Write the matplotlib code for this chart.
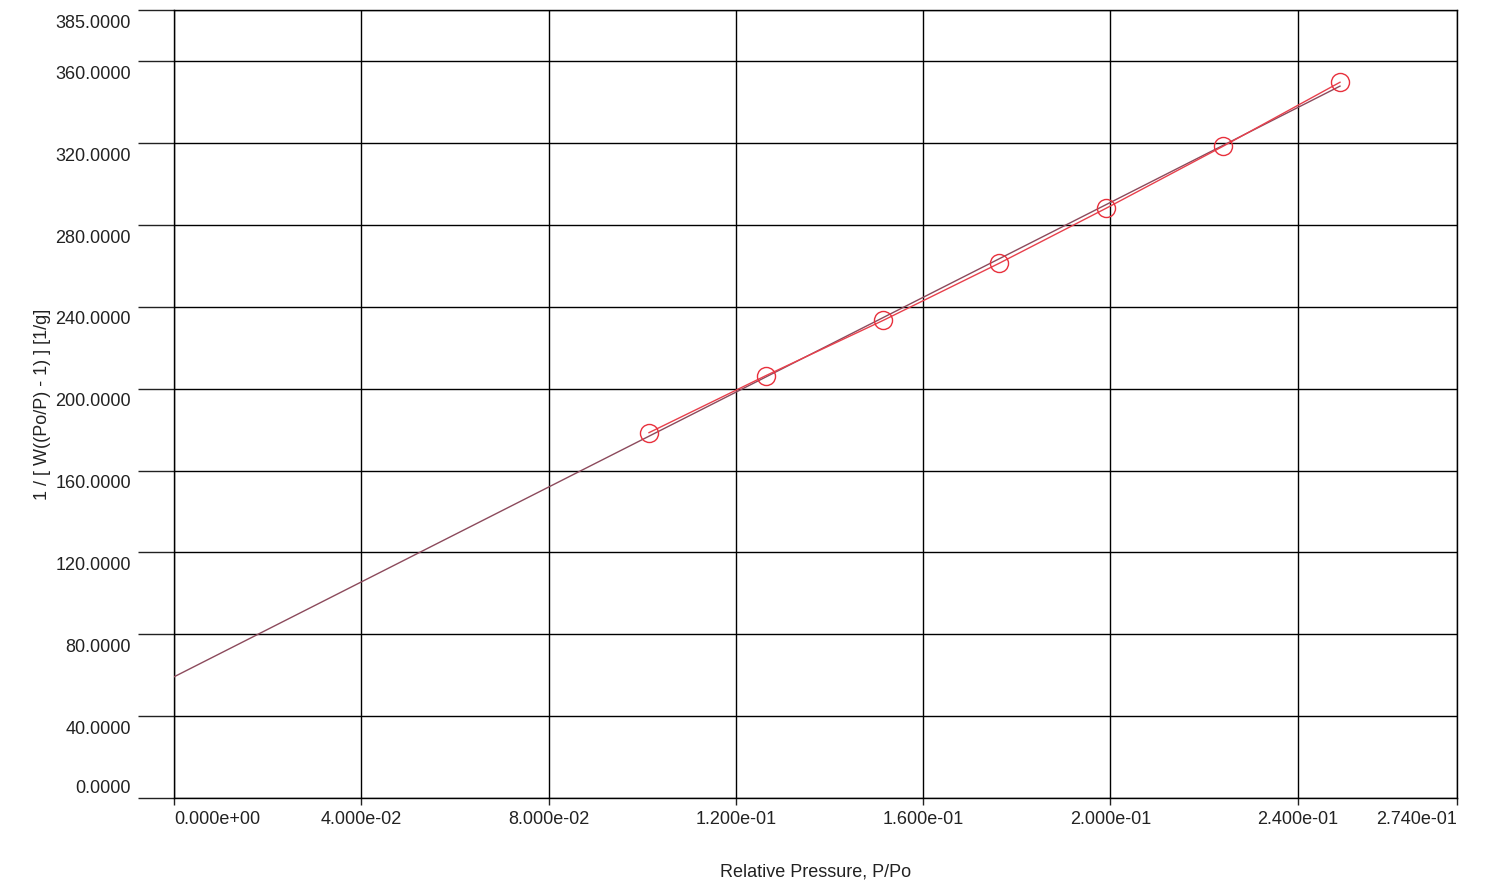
import numpy as np
import matplotlib
matplotlib.use('Agg')
import matplotlib.pyplot as plt
from matplotlib.transforms import ScaledTranslation

plt.rcParams['font.family'] = ['Liberation Sans', 'DejaVu Sans']

# BET data
rel_pressure = [0.10144, 0.12643, 0.15141, 0.17618, 0.19904, 0.22402, 0.24901]
bet_value = [178.5, 206.4, 233.3, 261.2, 288.1, 318.4, 349.7]

# fitted line (intercept / slope)
fit_x = [0.0, 0.24901]
fit_y = [59.2, 347.8]

xticks = [0.0, 0.04, 0.08, 0.12, 0.16, 0.20, 0.24, 0.274]
xlabels = ['0.000e+00', '4.000e-02', '8.000e-02', '1.200e-01', '1.600e-01',
           '2.000e-01', '2.400e-01', '2.740e-01']
yticks = [0, 40, 80, 120, 160, 200, 240, 280, 320, 360, 385]
ylabels = ['%.4f' % v for v in yticks]

fig = plt.figure(figsize=(14.92, 8.88), dpi=100)
ax = fig.add_axes([174 / 1492, 1 - 798 / 888, (1457 - 174) / 1492, (798 - 10) / 888])

ax.plot(fit_x, fit_y, color='#8c4a5c', lw=1.0, zorder=3)
ax.plot(rel_pressure, bet_value, color='#e8404c', lw=1.0, zorder=4)
ax.plot(rel_pressure, bet_value, 'o', ms=13, mfc='none', mec='#e8303c', mew=1.0, zorder=5)

ax.set_xlim(0, 0.274)
ax.set_ylim(0, 385)
ax.set_xticks(xticks)
ax.set_xticklabels(xlabels)
ax.set_yticks(yticks)
ax.set_yticklabels(ylabels)
ax.grid(True, color='black', lw=1.0)
for s in ax.spines.values():
    s.set_color('black')
    s.set_linewidth(1.0)

ax.tick_params(axis='y', length=26, width=1.0, pad=5, labelsize=13, colors='#222222')
ax.tick_params(axis='x', length=5, width=1.0, pad=4, labelsize=13, colors='#222222')
for t in ax.yaxis.get_major_ticks():
    t.tick1line.set_color('black')
for t in ax.xaxis.get_major_ticks():
    t.tick1line.set_color('black')

# y labels sit just below their gridline, except the zero label
for lab, v in zip(ax.get_yticklabels(), yticks):
    dy = 8 if v == 0 else -8
    lab.set_transform(lab.get_transform() + ScaledTranslation(0, dy / 72, fig.dpi_scale_trans))

xl = ax.get_xticklabels()
xl[0].set_horizontalalignment('left')
xl[-1].set_horizontalalignment('right')

ax.set_xlabel('Relative Pressure, P/Po', fontsize=13, color='#222222', labelpad=26)
ax.set_ylabel('1 / [ W((Po/P) - 1) ] [1/g]', fontsize=13, color='#222222', labelpad=3)

fig.savefig('out.png', dpi=100)
